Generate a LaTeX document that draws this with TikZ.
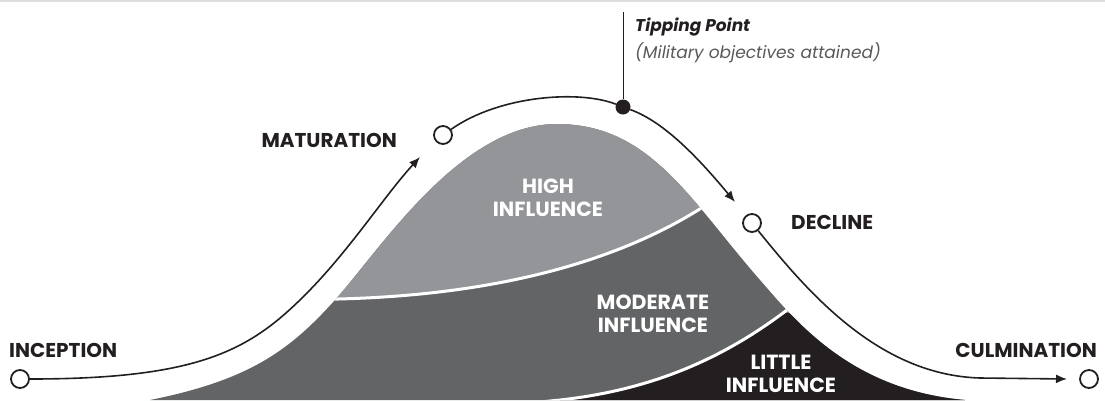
\documentclass[tikz,border=0pt]{standalone}
\usepackage{fontspec}
\setmainfont{Poppins}
\usetikzlibrary{arrows.meta}
\definecolor{highgray}{HTML}{939598}
\definecolor{modgray}{HTML}{636466}
\definecolor{inkblack}{HTML}{231F20}
\definecolor{notegray}{HTML}{58595B}
\definecolor{rulegray}{HTML}{DCDDDE}
\begin{document}
\begin{tikzpicture}[x=1pt,y=-1pt,
  stage/.style={circle,draw=inkblack,line width=1.8pt,fill=white,minimum size=18pt,inner sep=0pt},
  tipdot/.style={circle,fill=inkblack,minimum size=15pt,inner sep=0pt},
  flow/.style={draw=inkblack,line width=1.6pt},
  flowarrow/.style={flow,-{Latex[length=11pt,width=9pt]}},
  stagelabel/.style={inner sep=0pt,text=inkblack,font=\bfseries\fontsize{20}{24}\selectfont},
  zonelabel/.style={inner sep=0pt,text=white,align=center,font=\bfseries\fontsize{20.5}{23}\selectfont},
  divider/.style={white,line width=3pt}]
\useasboundingbox (0,0) rectangle (1105,400);
\draw[rulegray,line width=2pt] (0,1) -- (1105,1);
% influence zones
\def\bellpath{(150,400) .. controls (250,380) and (290,350) .. (335,300) .. controls (380,250) and (460,124) .. (557,124) .. controls (650,124) and (690,200) .. (760,280) .. controls (795,320) and (850,390) .. (965,400) -- cycle}
\fill[modgray] \bellpath;
\begin{scope}
\clip \bellpath;
\fill[highgray] (0,299) -- (338,299) .. controls (500,295) and (620,260) .. (703,207) -- (703,0) -- (0,0) -- cycle;
\draw[divider] (320,299.3) -- (338,299) .. controls (500,295) and (620,260) .. (703,207) -- (716,199);
\fill[inkblack] (783,313) .. controls (720,360) and (650,390) .. (560,400) -- (1000,400) -- (1000,313) -- cycle;
\draw[divider] (795,304) -- (783,313) .. controls (720,360) and (650,390) .. (560,400) -- (540,402);
\end{scope}
% stages
\node[stage] (inc) at (20,379) {};
\node[stage] (mat) at (443,135) {};
\node[tipdot] (tip) at (623,107) {};
\node[stage] (dec) at (752,223) {};
\node[stage] (cul) at (1089,379) {};
\coordinate (matend) at (420,157);
\coordinate (decend) at (735,202);
\coordinate (culend) at (1067,379);
\coordinate (tiptop) at (623,12);
\draw[flowarrow] (inc) .. controls (200,379) and (250,350) .. (305,295) .. controls (350,250) and (385,195) .. (matend);
\draw[flowarrow] (mat) .. controls (500,95) and (580,90) .. (tip) .. controls (665,122) and (700,160) .. (decend);
\draw[flowarrow] (dec) .. controls (810,295) and (880,375) .. (980,378) -- (culend);
\draw[inkblack,line width=0.8pt] (tip) -- (tiptop);
% labels
\node[stagelabel,anchor=base west] (inclbl) at (9,357) {INCEPTION};
\node[stagelabel,anchor=base east] (matlbl) at (397,147) {MATURATION};
\node[stagelabel,anchor=base west] (declbl) at (791,229) {DECLINE};
\node[stagelabel,anchor=base east] (cullbl) at (1097,357) {CULMINATION};
\node[zonelabel] (highlbl) at (548,197.5) {HIGH\\INFLUENCE};
\node[zonelabel] (modlbl) at (653,314) {MODERATE\\INFLUENCE};
\node[zonelabel] (litlbl) at (781,373.5) {LITTLE\\INFLUENCE};
\node[anchor=base west,inner sep=0pt,text=inkblack,font=\bfseries\itshape\fontsize{17}{21}\selectfont] (tiplbl) at (635,31) {Tipping Point};
\node[anchor=base west,inner sep=0pt,text=notegray,font=\itshape\fontsize{17}{21}\selectfont] (tipnote) at (635,58) {(Military objectives attained)};
\end{tikzpicture}
\end{document}
